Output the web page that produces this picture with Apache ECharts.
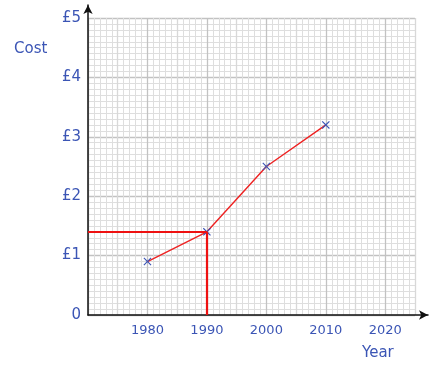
<!DOCTYPE html>
<html>
<head>
<meta charset="UTF-8">
<title></title>
<style>
  html, body { margin: 0; padding: 0; background: #fff; }
  #main { width: 435px; height: 378px; }
</style>
</head>
<body>
<div id="main"></div>
<script src="https://cdn.jsdelivr.net/npm/echarts@6/dist/echarts.min.js"></script>
<script>
var years = [1980, 1990, 2000, 2010];
var costs = [0.9, 1.4, 2.5, 3.2];
var yearLabels = [1980, 1990, 2000, 2010, 2020];
// reading taken off the graph
var readYear = 1990;
var readCost = 1.4;

var blue = '#3b55b5';
var font = '"Comic Sans MS", "DejaVu Sans", sans-serif';
var crossPath = 'path://M0,1L1,0L5,4L9,0L10,1L6,5L10,9L9,10L5,6L1,10L0,9L4,5Z';

var chart = echarts.init(document.getElementById('main'));
chart.setOption({
  animation: false,
  grid: [
    { left: 88, top: 18, right: 20, bottom: 63 },
    { left: 88, top: 5, right: 7, bottom: 63 }
  ],
  xAxis: [{
    gridIndex: 0,
    type: 'value',
    min: 1970, max: 2025, interval: 5,
    axisLine: { show: false },
    axisTick: { show: false },
    axisLabel: {
      color: blue, fontFamily: font, fontSize: 13, margin: 9,
      showMaxLabel: false,
      formatter: function (v) { return yearLabels.indexOf(v) >= 0 ? String(v) : ''; }
    },
    splitLine: { show: true, lineStyle: { color: ['#c2c2c2', '#d8d8d8'], width: 1.3 } },
    minorTick: { show: false, splitNumber: 5 },
    minorSplitLine: { show: true, lineStyle: { color: '#dedede', width: 1 } }
  }, {
    gridIndex: 1,
    type: 'value', min: 0, max: 1,
    axisLine: { show: true, symbol: ['none', 'arrow'], symbolSize: [7, 9], lineStyle: { color: '#111', width: 1.5 } },
    axisTick: { show: false }, axisLabel: { show: false }, splitLine: { show: false }
  }],
  yAxis: [{
    gridIndex: 0,
    type: 'value',
    min: 0, max: 5, interval: 1,
    axisLine: { show: false },
    axisTick: { show: false },
    axisLabel: {
      color: blue, fontFamily: font, fontSize: 15, margin: 7,
      formatter: function (v) { return v === 0 ? '0' : '\u00a3' + v; }
    },
    splitLine: { show: true, lineStyle: { color: '#c2c2c2', width: 1.3 } },
    minorTick: { show: false, splitNumber: 10 },
    minorSplitLine: { show: true, lineStyle: { color: '#dedede', width: 1 } }
  }, {
    gridIndex: 1,
    type: 'value', min: 0, max: 1,
    axisLine: { show: true, symbol: ['none', 'arrow'], symbolSize: [7, 9], lineStyle: { color: '#111', width: 1.5 } },
    axisTick: { show: false }, axisLabel: { show: false }, splitLine: { show: false }
  }],
  graphic: [
    { type: 'text', left: 14, top: 42, style: { text: 'Cost', fill: blue, font: '15px ' + font } },
    { type: 'text', left: 362, top: 346, style: { text: 'Year', fill: blue, font: '15px ' + font } }
  ],
  series: [{
    type: 'line',
    xAxisIndex: 0, yAxisIndex: 0,
    data: years.map(function (y, i) { return [y, costs[i]]; }),
    symbol: crossPath,
    symbolSize: 8,
    showAllSymbol: true,
    itemStyle: { color: blue },
    lineStyle: { color: '#ee2222', width: 1.4 },
    markLine: {
      silent: true,
      symbol: 'none',
      label: { show: false },
      lineStyle: { color: '#ee1111', width: 2.2, type: 'solid' },
      data: [
        [{ coord: [1970, readCost] }, { coord: [readYear, readCost] }],
        [{ coord: [readYear, 0] }, { coord: [readYear, readCost] }]
      ]
    }
  }]
});
</script>
</body>
</html>
